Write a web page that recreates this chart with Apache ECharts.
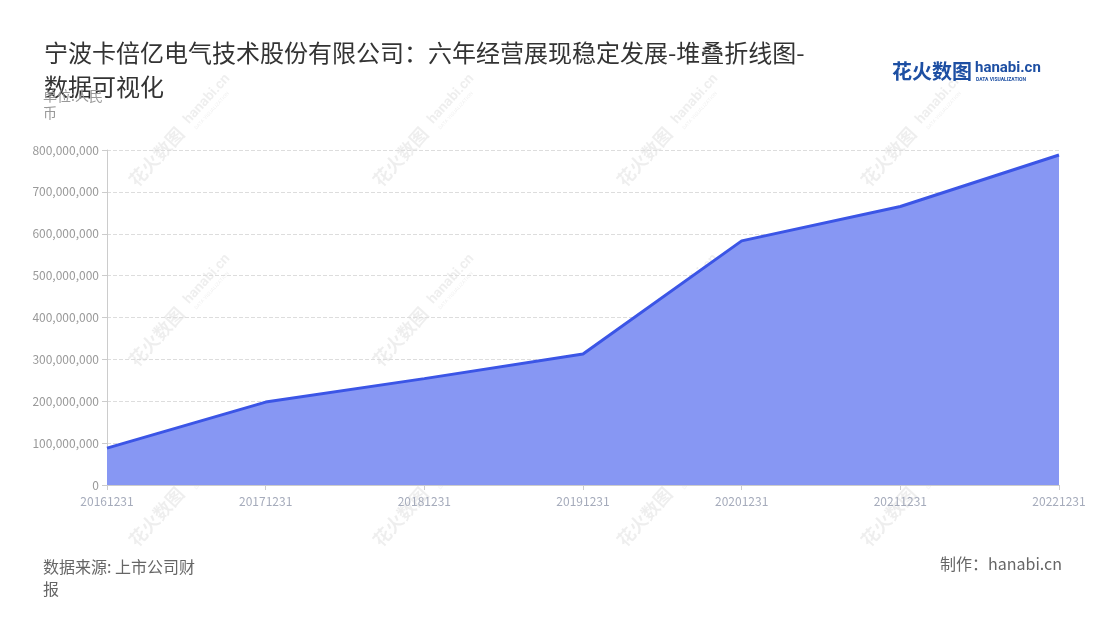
<!DOCTYPE html>
<html>
<head>
<meta charset="utf-8">
<script src="https://cdn.jsdelivr.net/npm/echarts@6/dist/echarts.min.js"></script>
<style>
  html, body { margin: 0; padding: 0; background: #fff; }
  #chart { width: 1100px; height: 620px; }
</style>
</head>
<body>
<div id="chart"></div>
<script>
// 报告期
const periods = ['20161231', '20171231', '20181231', '20191231', '20201231', '20211231', '20221231']
// 营业收入(元)
const revenue = [88000000, 198000000, 254000000, 313000000, 583000000, 665000000, 788000000]

const FONT = '"Noto Sans CJK SC", "Noto Sans", sans-serif'

// faint watermark, repeated
function watermark(cx, cy) {
  return {
    type: 'group',
    x: cx,
    y: cy,
    rotation: Math.PI / 4 + 0.05,
    z: 100,
    silent: true,
    children: [
      { type: 'text', x: -78, y: -11, style: { text: '花火数图', font: 'bold 18px ' + FONT, fill: 'rgba(0,0,0,0.065)' } },
      { type: 'text', x: 4, y: -10, style: { text: 'hanabi.cn', font: 'bold 14px Roboto, sans-serif', fill: 'rgba(0,0,0,0.065)' } },
      { type: 'text', x: 5, y: 6, style: { text: 'DATA VISUALIZATION', font: '5px Roboto, sans-serif', fill: 'rgba(0,0,0,0.065)' } }
    ]
  }
}

const marks = []
const cols = [186, 430, 674, 918]
const rows = [127, 307, 487]
cols.forEach(function (x) {
  rows.forEach(function (y) { marks.push(watermark(x, y)) })
})

var chartDom = document.getElementById('chart')
var myChart = echarts.init(chartDom)
var option

option = {
  animation: false,
  textStyle: { fontFamily: FONT },
  title: {
    text: '宁波卡倍亿电气技术股份有限公司：六年经营展现稳定发展-堆叠折线图-\n数据可视化',
    left: 39,
    top: 31,
    textStyle: { fontSize: 24, fontWeight: 'normal', color: '#333', lineHeight: 34, fontFamily: FONT }
  },
  grid: { left: 107, right: 41, top: 150, bottom: 135 },
  xAxis: {
    type: 'category',
    data: periods,
    boundaryGap: false,
    axisLine: { lineStyle: { color: '#ccc' } },
    axisTick: { show: true, lineStyle: { color: '#ccc' } },
    axisLabel: { color: '#a5abbb', fontSize: 12, margin: 10, fontFamily: FONT }
  },
  yAxis: {
    type: 'value',
    min: 0,
    max: 800000000,
    interval: 100000000,
    axisLine: { show: true, lineStyle: { color: '#ccc' } },
    axisTick: { show: true, lineStyle: { color: '#ccc' } },
    splitLine: { lineStyle: { color: '#ddd', type: 'dashed' } },
    axisLabel: {
      color: '#999',
      fontSize: 12,
      fontFamily: FONT,
      formatter: function (v) { return v.toLocaleString('en-US') }
    }
  },
  series: [
    {
      name: '营业收入',
      type: 'line',
      stack: 'total',
      data: revenue,
      symbol: 'none',
      lineStyle: { color: '#3b55e6', width: 3 },
      itemStyle: { color: '#3b55e6' },
      areaStyle: { color: '#8797f3', opacity: 1 }
    }
  ],
  graphic: marks.concat([
    {
      type: 'text',
      left: 43,
      top: 87,
      z: 50,
      style: { text: '单位:人民\n币', font: '14px ' + FONT, fill: '#999', lineHeight: 17 }
    },
    {
      type: 'text',
      left: 43,
      top: 556,
      style: { text: '数据来源: 上市公司财\n报', font: '16px ' + FONT, fill: '#666', lineHeight: 22 }
    },
    {
      type: 'text',
      right: 38,
      top: 556,
      style: { text: '制作：hanabi.cn', font: '16px ' + FONT, fill: '#666' }
    },
    // logo, top right
    {
      type: 'text',
      left: 892,
      top: 61,
      style: { text: '花火数图', font: 'bold 20px ' + FONT, fill: '#1d4fa3' }
    },
    {
      type: 'text',
      left: 975,
      top: 61,
      style: { text: 'hanabi.cn', font: 'bold 15px Roboto, sans-serif', fill: '#1d4fa3' }
    },
    {
      type: 'text',
      left: 976,
      top: 77,
      style: { text: 'DATA VISUALIZATION', font: 'bold 5px Roboto, sans-serif', fill: '#1d4fa3' }
    }
  ])
}

option && myChart.setOption(option)
</script>
</body>
</html>
